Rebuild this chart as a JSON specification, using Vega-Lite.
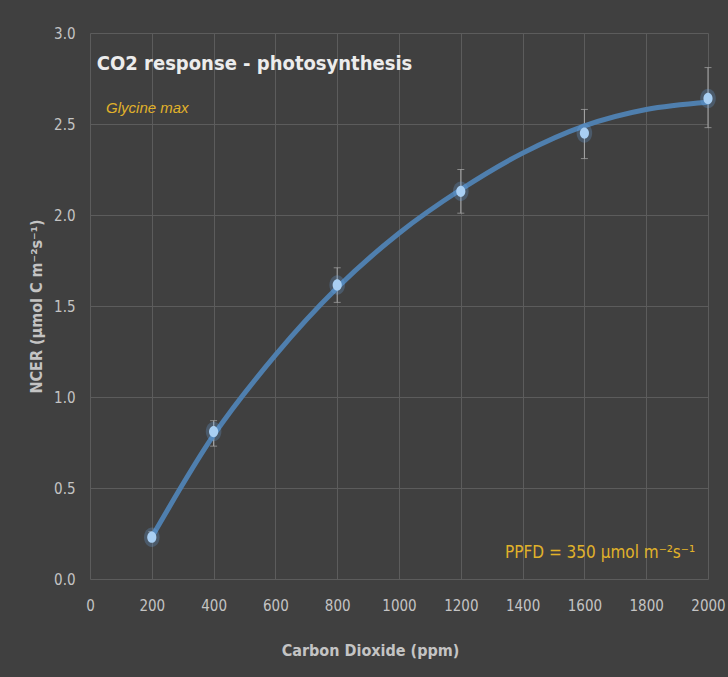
{
  "$schema": "https://vega.github.io/schema/vega-lite/v6.json",
  "width": 618,
  "height": 546,
  "autosize": {"type": "none"},
  "padding": {"left": 90, "top": 33, "right": 20, "bottom": 98},
  "background": "#404040",
  "config": {
    "view": {"stroke": null},
    "axis": {
      "gridColor": "#5c5c5c",
      "gridWidth": 1,
      "domain": false,
      "ticks": false,
      "labelFlush": false,
      "labelColor": "#c4c4c4",
      "labelFont": "Liberation Sans Narrow, DejaVu Sans Condensed, Roboto, sans-serif",
      "labelFontSize": 15,
      "titleColor": "#c4c4c4",
      "titleFont": "Liberation Sans Narrow, DejaVu Sans Condensed, Roboto, sans-serif",
      "titleFontSize": 16,
      "titleFontWeight": "bold"
    }
  },
  "datasets": {
    "obs": [
      {"co2": 200, "ncer": 0.23, "lo": 0.21, "hi": 0.26},
      {"co2": 400, "ncer": 0.81, "lo": 0.73, "hi": 0.87},
      {"co2": 800, "ncer": 1.615, "lo": 1.52, "hi": 1.71},
      {"co2": 1200, "ncer": 2.13, "lo": 2.01, "hi": 2.25},
      {"co2": 1600, "ncer": 2.45, "lo": 2.31, "hi": 2.58},
      {"co2": 2000, "ncer": 2.64, "lo": 2.48, "hi": 2.81}
    ],
    "trend": [
      {"co2": 200, "ncer": 0.23},
      {"co2": 400, "ncer": 0.79},
      {"co2": 600, "ncer": 1.23},
      {"co2": 800, "ncer": 1.60},
      {"co2": 1000, "ncer": 1.90},
      {"co2": 1200, "ncer": 2.14},
      {"co2": 1400, "ncer": 2.34},
      {"co2": 1600, "ncer": 2.49},
      {"co2": 1800, "ncer": 2.58},
      {"co2": 2000, "ncer": 2.62}
    ],
    "notes": [{"note": 1}]
  },
  "layer": [
    {
      "data": {"name": "obs"},
      "mark": {"type": "rule", "color": "#a8a8a8", "strokeWidth": 1},
      "encoding": {
        "x": {
          "field": "co2", "type": "quantitative",
          "scale": {"domain": [0, 2000], "nice": false},
          "axis": {
            "values": [0, 200, 400, 600, 800, 1000, 1200, 1400, 1600, 1800, 2000],
            "format": "d",
            "labelPadding": 19,
            "title": "Carbon Dioxide (ppm)",
            "titlePadding": 29,
            "titleX": 280
          }
        },
        "y": {
          "field": "lo", "type": "quantitative",
          "scale": {"domain": [0, 3], "nice": false},
          "axis": {
            "values": [0, 0.5, 1, 1.5, 2, 2.5, 3],
            "format": ".1f",
            "labelPadding": 15,
            "title": "NCER (µmol C m⁻²s⁻¹)",
            "titlePadding": 9
          }
        },
        "y2": {"field": "hi"}
      }
    },
    {
      "data": {"name": "obs"},
      "mark": {"type": "tick", "color": "#a8a8a8", "orient": "horizontal", "size": 7, "thickness": 1},
      "encoding": {
        "x": {"field": "co2", "type": "quantitative"},
        "y": {"field": "lo", "type": "quantitative"}
      }
    },
    {
      "data": {"name": "obs"},
      "mark": {"type": "tick", "color": "#a8a8a8", "orient": "horizontal", "size": 7, "thickness": 1},
      "encoding": {
        "x": {"field": "co2", "type": "quantitative"},
        "y": {"field": "hi", "type": "quantitative"}
      }
    },
    {
      "data": {"name": "trend"},
      "mark": {"type": "line", "color": "#4f7fae", "strokeWidth": 5, "interpolate": "monotone", "strokeCap": "round"},
      "encoding": {
        "x": {"field": "co2", "type": "quantitative"},
        "y": {"field": "ncer", "type": "quantitative"}
      }
    },
    {
      "data": {"name": "obs"},
      "mark": {"type": "point", "filled": true, "color": "#6aa8e8", "opacity": 0.25, "size": 380, "shape": "M -0.8 0 A 0.8 1 0 1 0 0.8 0 A 0.8 1 0 1 0 -0.8 0 Z"},
      "encoding": {
        "x": {"field": "co2", "type": "quantitative"},
        "y": {"field": "ncer", "type": "quantitative"}
      }
    },
    {
      "data": {"name": "obs"},
      "mark": {"type": "point", "filled": true, "color": "#a9cff3", "opacity": 1, "size": 130, "shape": "M -0.8 0 A 0.8 1 0 1 0 0.8 0 A 0.8 1 0 1 0 -0.8 0 Z"},
      "encoding": {
        "x": {"field": "co2", "type": "quantitative"},
        "y": {"field": "ncer", "type": "quantitative"}
      }
    },
    {
      "data": {"name": "notes"},
      "mark": {"type": "text", "align": "left", "baseline": "middle", "color": "#ececec", "fontSize": 20, "fontWeight": "bold", "font": "Liberation Sans Narrow, DejaVu Sans Condensed, Roboto, sans-serif"},
      "encoding": {
        "x": {"datum": 22},
        "y": {"datum": 2.83},
        "text": {"value": "CO2 response - photosynthesis"}
      }
    },
    {
      "data": {"name": "notes"},
      "mark": {"type": "text", "align": "left", "baseline": "middle", "color": "#e0b22a", "fontSize": 15, "fontStyle": "italic", "font": "Liberation Sans, Arial, sans-serif"},
      "encoding": {
        "x": {"datum": 52},
        "y": {"datum": 2.59},
        "text": {"value": "Glycine max"}
      }
    },
    {
      "data": {"name": "notes"},
      "mark": {"type": "text", "align": "right", "baseline": "middle", "color": "#e0b22a", "fontSize": 17, "font": "Liberation Sans Narrow, DejaVu Sans Condensed, Roboto, sans-serif"},
      "encoding": {
        "x": {"datum": 1958},
        "y": {"datum": 0.143},
        "text": {"value": "PPFD = 350 µmol m⁻²s⁻¹"}
      }
    }
  ]
}
